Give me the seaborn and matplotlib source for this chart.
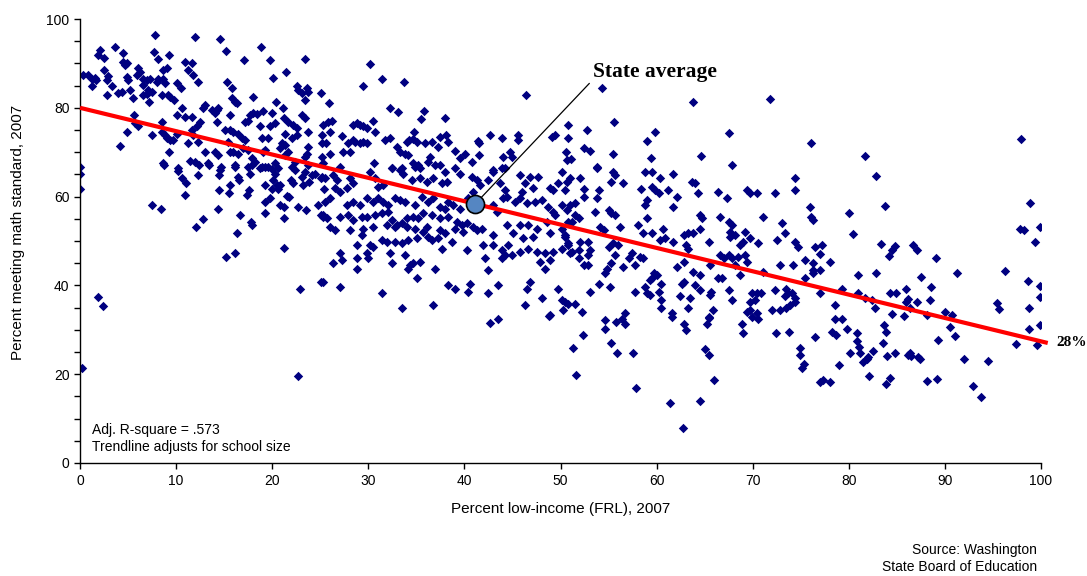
import numpy as np
import pandas as pd
import matplotlib
matplotlib.use("Agg")
import matplotlib.pyplot as plt
import seaborn as sns

# schools: (percent low-income, percent meeting math standard)
band_0_25 = [
    (0.35, 87.5), (0.87, 87.5), (1.21, 86.6), (1.56, 86.8), (1.21, 84.9), (1.63, 86.3),
    (1.84, 91.9), (2.08, 93.0), (2.53, 91.3), (2.53, 88.5), (2.95, 87.2), (2.84, 86.3),
    (3.3, 84.9), (2.78, 82.9), (3.64, 93.8), (4.51, 92.3), (4.51, 90.4), (4.68, 89.6),
    (4.86, 90.0), (4.86, 87.0), (5.03, 86.3), (5.2, 84.0), (3.99, 83.3), (4.34, 83.6),
    (5.55, 82.1), (5.65, 78.4), (5.72, 76.5), (6.07, 75.8), (4.93, 74.6), (4.16, 71.4),
    (7.8, 96.4), (7.74, 92.5), (8.15, 91.0), (6.07, 88.9), (6.24, 88.1), (5.9, 87.5),
    (6.59, 86.6), (6.94, 86.3), (7.28, 86.6), (6.59, 85.1), (7.11, 84.0), (6.59, 82.9),
    (6.94, 83.0), (7.46, 83.6), (7.18, 81.4), (7.98, 85.9), (8.15, 86.6), (8.67, 88.5),
    (9.02, 88.9), (8.67, 86.6), (8.84, 85.5), (8.5, 82.9), (9.19, 82.9), (9.37, 82.5),
    (9.82, 81.8), (9.26, 91.9), (10.06, 85.5), (10.51, 84.4), (10.58, 80.0), (10.06, 78.4),
    (10.93, 90.4), (11.62, 90.0), (11.27, 88.5), (11.79, 87.4), (12.24, 85.9), (11.97, 96.0),
    (10.93, 78.0), (11.62, 78.0), (8.57, 76.9), (7.53, 73.9), (8.57, 74.6), (8.84, 73.9),
    (9.02, 73.1), (9.37, 72.7), (9.71, 72.7), (10.06, 74.2), (11.62, 75.0), (11.79, 73.9),
    (12.14, 75.8), (12.49, 76.9), (12.24, 72.4), (11.27, 72.0), (9.3, 70.1), (8.67, 67.5),
    (10.23, 66.4), (11.45, 68.0), (11.97, 67.9), (13.01, 70.1), (13.35, 67.5), (13.01, 80.6),
    (12.83, 79.9), (13.7, 79.5), (14.22, 79.5), (14.4, 79.9), (14.05, 78.8), (14.57, 95.6),
    (15.16, 92.8), (15.26, 85.9), (15.78, 84.4), (15.78, 82.1), (16.13, 81.4), (16.3, 81.0),
    (15.61, 78.4), (14.22, 76.9), (15.09, 75.0), (15.61, 75.0), (15.96, 74.6), (16.48, 74.2),
    (15.44, 72.4), (14.4, 69.4), (14.05, 70.1), (15.61, 70.1), (15.96, 70.1), (16.48, 69.7),
    (14.67, 66.7), (16.13, 66.7), (17.1, 90.8), (17.97, 82.5), (17.69, 78.4), (18.04, 78.8),
    (18.38, 78.5), (17.17, 76.9), (17.52, 77.0), (16.82, 73.1), (17.17, 72.7), (17.0, 70.9),
    (17.52, 70.5), (17.86, 68.6), (18.21, 67.9), (18.83, 93.8), (19.77, 90.8), (20.12, 86.8),
    (19.08, 79.3), (19.94, 78.8), (18.73, 75.8), (20.29, 76.5), (19.77, 75.8), (18.9, 73.1),
    (19.6, 73.1), (19.08, 70.1), (19.25, 70.5), (20.99, 72.0), (21.33, 71.6), (20.81, 70.9),
    (21.33, 74.2), (20.36, 81.2), (21.16, 80.0), (21.4, 88.0), (23.41, 91.0), (22.55, 84.8),
    (22.72, 84.0), (23.07, 83.3), (23.59, 84.5), (23.76, 83.6), (23.41, 81.8), (25.08, 83.3),
    (23.14, 78.4), (23.41, 77.6), (21.26, 77.6), (21.68, 76.9), (22.2, 76.1), (22.55, 75.5),
    (23.76, 74.5), (25.32, 76.1), (25.15, 73.9), (22.55, 73.9), (22.03, 73.1), (21.33, 69.4),
    (21.68, 70.1), (23.76, 71.2), (23.59, 69.5), (23.41, 69.0), (25.15, 69.0), (25.15, 72.0),
    (22.37, 67.9), (20.29, 67.5), (18.9, 66.7), (19.6, 66.7), (20.64, 66.4), (22.03, 66.7),
    (23.76, 67.1), (25.32, 67.5),
    (8.7, 67.1), (0.0, 66.7), (0.0, 65.0), (0.0, 61.8), (7.5, 58.2), (8.4, 57.3),
    (10.2, 65.7), (10.6, 64.2), (11.0, 63.0), (10.9, 60.3), (12.3, 64.8), (12.4, 67.1),
    (13.4, 67.1), (12.1, 53.1), (12.8, 54.9), (14.5, 64.8), (14.6, 66.0), (14.5, 61.5),
    (14.4, 57.3), (15.6, 62.6), (15.5, 60.9), (16.4, 64.5), (16.5, 63.7), (16.1, 67.1),
    (17.5, 66.7), (17.9, 67.1), (17.7, 65.2), (17.6, 61.5), (17.4, 60.3), (16.7, 55.8),
    (16.3, 51.7), (17.8, 54.3), (17.9, 53.7), (16.1, 47.4), (15.2, 46.3), (18.7, 66.5),
    (19.3, 66.7), (19.2, 62.7), (19.2, 58.8), (19.3, 56.2), (20.0, 66.3), (20.3, 65.2),
    (20.1, 63.7), (20.5, 62.6), (20.0, 61.8), (20.8, 62.7), (20.6, 61.8), (19.8, 59.6),
    (20.8, 58.1), (21.2, 57.7), (21.2, 55.2), (21.7, 60.0), (21.5, 60.2), (22.0, 63.7),
    (22.2, 63.0), (22.4, 66.0), (23.1, 64.5), (23.4, 65.6), (23.2, 62.6), (23.8, 63.3),
    (24.5, 65.2), (24.1, 64.8), (25.1, 64.1), (25.4, 61.8), (22.7, 57.7), (23.5, 57.0),
    (24.8, 58.1), (25.1, 55.8), (25.3, 55.5), (21.2, 48.5), (22.9, 39.3), (25.1, 40.8),
    (1.9, 37.3), (2.4, 35.4), (0.17, 21.4), (22.7, 19.6),
]

band_25_50 = [
    (30.17, 89.8), (31.39, 86.6), (29.48, 84.8), (33.71, 85.7), (25.94, 81.0), (32.25, 80.0),
    (33.12, 79.0), (35.83, 79.3), (35.44, 77.5), (37.98, 77.6), (46.37, 82.9), (30.52, 77.0),
    (30.69, 74.6), (28.44, 76.1), (28.79, 76.5), (29.13, 76.1), (29.48, 75.8), (29.83, 75.4),
    (25.84, 76.9), (26.18, 77.0), (26.01, 74.6), (27.22, 73.7), (25.59, 72.0), (27.92, 72.0),
    (28.44, 72.7), (28.61, 72.4), (29.13, 72.0), (29.48, 72.4), (29.83, 72.0), (27.4, 70.1),
    (28.09, 70.1), (31.73, 72.7), (32.25, 73.1), (32.95, 71.2), (33.3, 70.1), (33.81, 69.7),
    (34.16, 69.4), (33.99, 72.2), (34.27, 72.7), (34.68, 73.0), (35.03, 72.4), (34.79, 74.6),
    (35.9, 72.0), (36.59, 72.4), (37.28, 71.2), (37.46, 73.5), (38.08, 73.9), (38.32, 72.2),
    (39.02, 70.3), (39.54, 68.6), (40.06, 69.7), (36.42, 69.0), (36.24, 67.9), (30.62, 67.5),
    (32.43, 66.4), (33.47, 66.4), (34.68, 67.5), (35.2, 67.1), (37.46, 67.1), (40.75, 67.9),
    (41.52, 72.0), (41.45, 72.5), (41.52, 69.4), (42.66, 73.9), (43.87, 73.1), (45.54, 73.9),
    (45.61, 72.7), (44.05, 69.0), (44.74, 70.1), (44.91, 69.0), (43.87, 66.4), (43.01, 66.0),
    (49.15, 73.5), (49.42, 73.9), (50.74, 76.1), (50.74, 73.3), (50.64, 68.2), (50.57, 70.1),
    (26.01, 69.7), (27.05, 66.7),
    (26.36, 64.85), (26.7, 63.7), (28.09, 64.1), (28.44, 63.0), (27.74, 61.85), (27.05, 61.1),
    (26.53, 61.85), (25.49, 64.1), (25.14, 64.5), (30.17, 65.6), (30.69, 64.1), (31.04, 62.2),
    (31.56, 62.6), (32.43, 66.35), (33.3, 66.0), (33.64, 65.2), (34.86, 66.7), (35.38, 66.35),
    (34.51, 63.7), (35.38, 64.1), (36.07, 63.35), (36.94, 67.1), (36.76, 64.1), (37.98, 65.6),
    (37.63, 63.0), (38.15, 63.35), (39.02, 66.35), (39.54, 65.2), (40.75, 64.5), (41.27, 63.7),
    (41.62, 62.6), (40.93, 61.1), (42.49, 63.7), (43.01, 65.6), (44.22, 66.35), (43.7, 63.0),
    (44.22, 61.5), (44.05, 59.6), (45.78, 64.85), (46.3, 63.0), (45.96, 61.1), (46.82, 64.5),
    (47.69, 64.5), (47.17, 61.85), (48.9, 61.85), (49.25, 61.5), (49.77, 63.0), (50.12, 65.6),
    (50.46, 61.5), (50.64, 63.35),
    (25.49, 58.8), (26.01, 59.6), (27.74, 58.1), (28.44, 58.8), (29.13, 58.1), (29.83, 59.6),
    (30.52, 58.8), (31.04, 59.6), (31.56, 58.8), (32.08, 58.1), (32.77, 59.6), (33.3, 59.2),
    (33.81, 58.8), (34.86, 58.1), (35.55, 60.0), (36.24, 58.8), (36.76, 59.6), (37.46, 57.7),
    (38.32, 58.8), (37.98, 57.3), (38.84, 58.1), (39.54, 57.3), (40.41, 59.6), (39.19, 54.3),
    (39.71, 53.6), (40.23, 54.0), (40.93, 53.2), (41.27, 52.5), (41.79, 52.8), (39.89, 52.1),
    (39.02, 52.8), (38.32, 55.5), (37.46, 55.1), (36.59, 55.8), (35.72, 56.2), (35.2, 55.1),
    (34.68, 55.5), (33.99, 55.1), (33.47, 54.0), (32.95, 53.6), (32.43, 54.7), (32.08, 56.6),
    (31.39, 56.2), (30.69, 55.8), (29.83, 55.5), (29.3, 55.5), (28.44, 54.7), (27.92, 55.8),
    (27.05, 55.5), (25.32, 55.8), (25.66, 55.1), (26.01, 53.2), (26.53, 52.5), (28.09, 52.5),
    (29.48, 52.8), (30.52, 53.2), (31.91, 53.6), (32.77, 53.2), (33.99, 53.2), (34.86, 52.8),
    (35.72, 52.1), (36.07, 53.2), (37.46, 52.5), (37.98, 51.7), (43.01, 58.1), (43.35, 56.6),
    (44.39, 60.0), (45.26, 58.8), (45.78, 59.6), (46.48, 58.5), (47.34, 58.8), (48.04, 59.2),
    (48.73, 57.7), (49.25, 56.6), (50.12, 58.1), (50.64, 57.0), (44.39, 53.6), (45.78, 53.6),
    (46.65, 53.6), (47.52, 52.8), (48.56, 54.3), (49.42, 55.8), (50.12, 52.8), (50.81, 54.3),
    (43.01, 51.3), (45.09, 51.7), (46.13, 50.6), (47.17, 51.0), (48.9, 51.7), (50.46, 51.0),
    (29.3, 51.3), (28.79, 49.1), (30.17, 49.1), (30.52, 48.7), (31.39, 50.2), (31.91, 49.8),
    (32.77, 49.8), (33.47, 49.5), (34.16, 50.2), (35.03, 50.6), (36.24, 51.0), (36.59, 50.2),
    (37.28, 50.6), (37.63, 48.3), (38.67, 49.8), (40.23, 48.0), (41.97, 49.1), (43.01, 49.1),
    (43.87, 48.0), (44.57, 49.1), (44.91, 46.8), (44.22, 46.8), (45.78, 47.6), (46.65, 48.3),
    (47.52, 47.6), (48.38, 47.2), (49.25, 47.6), (50.12, 48.3), (50.81, 49.1), (27.05, 47.2),
    (27.22, 45.7), (26.36, 45.0), (28.79, 46.1), (28.79, 43.8), (29.83, 47.2), (30.0, 46.1),
    (32.25, 47.2), (32.43, 45.0), (33.81, 46.8), (34.34, 44.6), (34.68, 45.0), (35.38, 45.3),
    (34.16, 43.8), (36.94, 43.8), (42.14, 46.1), (42.49, 43.5), (43.87, 46.1), (47.86, 45.3),
    (48.38, 43.8), (48.9, 45.7),
    (25.25, 40.8), (27.05, 39.7), (31.39, 38.2), (33.47, 34.8), (35.03, 41.6), (36.69, 35.6),
    (38.32, 40.1), (39.02, 39.3), (40.58, 40.4), (40.41, 38.6), (42.49, 38.2), (43.53, 40.1),
    (46.48, 39.3), (46.82, 40.8), (46.3, 35.6), (48.04, 37.1), (48.9, 33.3), (49.77, 39.3),
    (50.12, 36.7), (50.29, 34.4), (50.81, 35.9), (42.7, 31.6), (43.5, 32.4), (48.8, 33.1),
]

band_50_76 = [
    (54.35, 84.4), (63.82, 81.2), (71.8, 81.9), (76.07, 72.0), (52.79, 75.0), (55.6, 76.7),
    (52.48, 70.9), (53.07, 70.3), (51.06, 68.4), (55.5, 69.5), (53.77, 66.7), (59.84, 74.6),
    (59.04, 72.6), (59.42, 68.6), (67.57, 74.4), (64.62, 69.1),
    (53.8, 66.5), (55.5, 65.6), (55.7, 64.9), (55.3, 63.3), (56.5, 63.0), (58.8, 65.6),
    (59.5, 65.6), (61.7, 65.2), (60.4, 64.1), (51.0, 64.1), (52.0, 64.1), (52.4, 61.8),
    (58.4, 61.8), (59.5, 62.2), (59.8, 61.5), (60.2, 60.7), (61.2, 61.5), (62.1, 60.0),
    (63.7, 63.4), (64.0, 63.0), (64.3, 60.7), (66.4, 61.1), (67.3, 59.6), (69.4, 61.5),
    (69.7, 60.7), (70.4, 60.7), (72.3, 60.7), (74.4, 64.1), (74.4, 61.5), (67.8, 67.1),
    (51.0, 58.1), (51.5, 58.5), (52.4, 60.0), (54.0, 61.5), (53.8, 59.6), (55.0, 57.0),
    (55.3, 56.2), (55.7, 55.8), (53.6, 56.6), (59.0, 59.2), (58.8, 58.1), (59.0, 55.1),
    (61.7, 57.7), (64.5, 55.8), (64.7, 55.1), (66.6, 55.5), (67.5, 54.3), (67.8, 53.6),
    (71.1, 55.5), (73.0, 54.0), (51.5, 55.8), (51.9, 55.1), (51.2, 54.3), (54.1, 53.2),
    (54.5, 52.5), (56.2, 53.2), (58.1, 53.6), (58.6, 51.7), (59.5, 51.7), (60.7, 52.8),
    (60.9, 50.6), (60.4, 50.2), (61.7, 49.8), (62.9, 51.3), (63.3, 51.7), (63.8, 51.7),
    (63.1, 49.1), (63.3, 48.3), (64.5, 52.8), (65.4, 49.8), (67.6, 52.1), (67.6, 51.0),
    (68.2, 51.3), (69.2, 52.1), (68.7, 49.1), (69.0, 49.8), (70.6, 49.5), (69.7, 50.6),
    (72.5, 50.2), (73.4, 51.7), (74.4, 49.8), (74.7, 48.7), (75.4, 45.7),
    (50.5, 51.3), (50.8, 49.5), (51.2, 47.6), (51.0, 47.2), (51.9, 48.0), (52.0, 49.8),
    (52.9, 49.8), (53.1, 48.0), (52.9, 46.8), (51.9, 46.1), (52.4, 44.6), (52.9, 44.6),
    (55.0, 48.7), (55.5, 49.5), (56.0, 49.1), (55.7, 46.8), (55.3, 45.0), (54.8, 43.8),
    (54.6, 42.7), (56.5, 44.2), (57.4, 47.2), (57.1, 46.1), (58.3, 46.5), (58.6, 46.1),
    (57.8, 44.6), (59.7, 42.7), (60.0, 42.3), (59.3, 41.2), (59.5, 41.6), (60.5, 40.4),
    (58.8, 39.7), (59.0, 38.2), (59.3, 37.8), (60.2, 38.6), (57.8, 38.6), (62.1, 44.2),
    (62.8, 45.3), (63.8, 43.1), (64.5, 42.3), (62.6, 40.4), (62.8, 40.8), (64.0, 40.1),
    (64.5, 39.0), (62.4, 37.5), (63.5, 37.1), (65.6, 44.6), (66.6, 46.8), (67.0, 46.1),
    (67.5, 46.8), (67.8, 46.1), (68.2, 44.6), (68.5, 46.5), (69.4, 45.3), (69.2, 46.8),
    (66.4, 41.6), (66.8, 41.6), (65.6, 37.8), (65.7, 38.6), (67.5, 38.9), (67.8, 36.7),
    (68.7, 42.3), (71.1, 43.1), (69.9, 38.2), (70.4, 38.2), (70.9, 38.2), (69.7, 36.3),
    (70.2, 36.7), (69.4, 34.1), (69.7, 34.4), (70.4, 33.7), (72.0, 34.4), (72.8, 34.4),
    (72.3, 39.0), (72.8, 44.6), (73.5, 39.3), (73.7, 38.2), (73.4, 37.5), (74.1, 38.2),
    (74.4, 37.1), (74.4, 36.3), (73.9, 35.6), (73.5, 34.8), (74.2, 44.6), (75.4, 41.6),
    (76.3, 42.7), (54.0, 40.4), (55.2, 39.7), (53.1, 38.6), (56.7, 33.7), (51.5, 35.9),
    (52.2, 34.1), (60.5, 36.7), (60.5, 34.8), (61.6, 33.7), (63.3, 34.8), (65.9, 34.4),
    (65.4, 32.9), (50.5, 36.3),
    (54.6, 32.2), (55.8, 31.8), (56.4, 32.5), (56.7, 31.4), (54.6, 30.1), (52.3, 28.9),
    (51.3, 26.0), (55.3, 27.1), (55.9, 24.8), (57.5, 24.8), (51.6, 19.8), (57.9, 16.8),
    (61.6, 32.9), (62.8, 31.2), (63.1, 29.9), (65.4, 32.7), (65.2, 31.4), (65.0, 25.6),
    (65.5, 24.4), (66.0, 18.8), (61.4, 13.6), (64.5, 14.0), (62.7, 7.9), (68.9, 31.4),
    (69.0, 29.2), (69.9, 32.9), (70.6, 32.5), (72.4, 29.2), (73.8, 29.4), (74.9, 26.0),
    (74.9, 24.3), (75.3, 22.4), (75.1, 21.3),
]

band_76_100 = [
    (81.7, 69.1), (97.9, 72.9),
    (82.8, 64.6), (83.8, 57.9), (80.0, 56.2), (80.4, 51.5), (76.0, 57.7), (76.1, 55.5),
    (76.3, 54.7), (76.5, 48.7), (77.2, 49.1), (77.0, 47.0), (76.3, 45.0), (76.3, 43.5),
    (77.0, 43.5), (78.0, 45.3), (83.3, 49.3), (84.8, 48.9), (84.5, 48.0), (84.2, 46.6),
    (86.7, 49.1), (87.1, 48.0), (89.1, 46.1), (81.0, 42.3), (82.8, 42.8), (87.5, 41.9),
    (91.3, 42.7), (88.5, 39.6), (79.3, 39.3), (77.0, 38.3), (81.0, 38.2), (81.7, 37.1),
    (82.4, 36.7), (84.3, 38.2), (84.9, 38.4), (86.0, 39.2), (86.2, 36.9), (86.0, 36.3),
    (87.1, 36.3), (88.4, 36.8), (78.6, 35.6), (82.7, 35.0), (84.5, 33.5), (85.7, 33.2),
    (86.4, 34.8), (90.0, 34.1), (90.7, 33.3), (78.6, 32.4), (79.3, 32.4), (98.9, 58.6),
    (97.8, 52.8), (98.2, 52.5), (99.9, 53.2), (99.4, 49.8), (96.2, 43.2), (98.6, 41.0),
    (99.9, 39.8), (99.9, 37.3), (95.4, 36.1), (95.6, 34.6), (98.8, 35.0), (88.1, 33.3),
    (83.7, 31.1), (83.9, 29.5), (83.6, 27.1), (76.5, 28.4), (78.2, 29.5), (78.7, 28.8),
    (79.8, 30.1), (80.8, 29.2), (80.9, 27.4), (81.1, 26.2), (81.2, 24.7), (80.1, 24.8),
    (82.5, 25.3), (81.5, 22.8), (81.9, 23.5), (82.0, 23.9), (79.0, 22.1), (77.0, 18.3),
    (77.3, 18.8), (78.0, 18.3), (82.1, 19.6), (84.3, 19.2), (83.9, 17.8), (84.0, 24.1),
    (84.8, 24.8), (86.2, 24.3), (86.4, 24.7), (86.5, 24.1), (87.2, 23.9), (87.4, 23.5),
    (88.1, 18.5), (89.2, 19.0), (89.3, 27.7), (90.5, 30.7), (91.1, 28.6), (92.0, 23.5),
    (92.9, 17.3), (94.5, 22.9), (93.8, 14.8), (97.4, 26.7), (98.8, 30.1), (99.9, 31.1),
    (99.6, 26.5),
]

# trendline (size-weighted fit) and the state average
trend_intercept = 80.0
trend_slope = -0.526
trend_x = [0, 100.7]
state_avg = (41.1, 58.3)

x_ticks = list(range(0, 101, 10))
y_ticks = list(range(0, 101, 20))

df = pd.DataFrame(band_0_25 + band_25_50 + band_50_76 + band_76_100,
                  columns=["frl", "math"])

sns.set_style("ticks")
plt.rcParams["font.family"] = ["Liberation Sans", "DejaVu Sans"]
plt.rcParams["text.color"] = "black"
plt.rcParams["axes.labelcolor"] = "black"

fig, ax = plt.subplots(figsize=(10.87, 5.76), dpi=100)
fig.subplots_adjust(left=0.0736, right=0.9577, bottom=0.1962, top=0.967)

sns.scatterplot(data=df, x="frl", y="math", marker="D", color="#000080",
                s=23, linewidth=0, ax=ax, zorder=2)

ty = [trend_intercept + trend_slope * x for x in trend_x]
ax.plot(trend_x, ty, color="#ff0000", lw=3, solid_capstyle="butt", clip_on=False, zorder=3)

# state average marker with leader line
ax.plot([state_avg[0], 53.0], [state_avg[1], 85.5], color="black", lw=0.9, zorder=4)
ax.plot(state_avg[0], state_avg[1], marker="o", ms=13, mfc="#5586c2", mec="black",
        mew=1.2, zorder=5)
ax.text(53.4, 88.0, "State average", fontsize=15.5, fontweight="bold", color="black",
        family=["Liberation Serif", "DejaVu Serif"], ha="left", va="center")
ax.text(101.6, ty[1], "28%", fontsize=11, fontweight="bold", color="black",
        family=["Liberation Serif", "DejaVu Serif"], ha="left", va="center", clip_on=False)

ax.text(0.0125, 0.055, "Adj. R-square = .573\nTrendline adjusts for school size",
        transform=ax.transAxes, fontsize=10, ha="left", va="center", linespacing=1.3)

ax.set_xlim(0, 100)
ax.set_ylim(0, 100)
ax.set_xticks(x_ticks)
ax.set_yticks(y_ticks)
ax.set_yticks(list(range(0, 101, 5)), minor=True)
ax.tick_params(axis="both", which="both", direction="out", length=4, width=1,
               labelsize=10, colors="black")
ax.tick_params(axis="y", which="minor", length=4)
ax.tick_params(axis="x", pad=4)

sns.despine(ax=ax)
for s in ["left", "bottom"]:
    ax.spines[s].set_color("black")
    ax.spines[s].set_linewidth(1.0)

ax.set_xlabel("Percent low-income (FRL), 2007", fontsize=11)
ax.set_ylabel("Percent meeting math standard, 2007", fontsize=11)
ax.xaxis.set_label_coords(0.5, -0.088)
ax.yaxis.set_label_coords(-0.057, 0.52)

fig.text(0.954, 0.03, "Source: Washington\nState Board of Education", ha="right",
         va="center", fontsize=10, linespacing=1.3)

fig.savefig("out.png", dpi=100)
